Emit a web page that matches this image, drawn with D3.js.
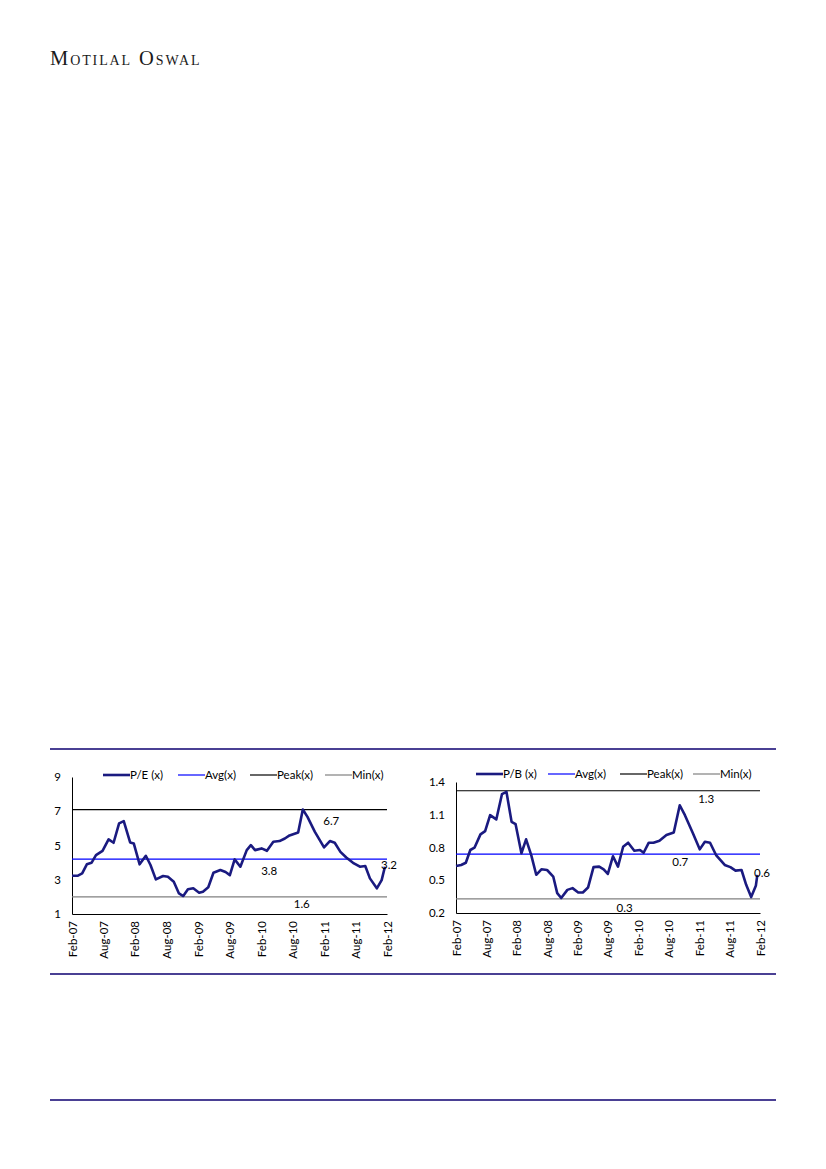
<!DOCTYPE html>
<html>
<head>
<meta charset="utf-8">
<script src="https://cdn.jsdelivr.net/npm/d3@7"></script>
<style>
  body { margin: 0; background: #fff; }
  svg text { font-family: Lato, "Open Sans", sans-serif; }
</style>
</head>
<body>
<div class="page"></div>
<script>
// P/E series (x)
var peDates = ["2007-02-01","2007-03-05","2007-04-01","2007-04-28","2007-05-25","2007-06-20","2007-07-28","2007-09-01",
  "2007-09-30","2007-11-01","2007-11-28","2008-01-04","2008-01-25","2008-02-28","2008-04-04","2008-05-01","2008-06-01",
  "2008-07-13","2008-08-10","2008-09-13","2008-10-13","2008-11-07","2008-12-04","2009-01-04","2009-02-07","2009-03-01",
  "2009-04-01","2009-05-01","2009-06-10","2009-07-10","2009-08-04","2009-09-01","2009-10-04","2009-11-10","2009-12-04",
  "2009-12-28","2010-02-04","2010-03-07","2010-04-13","2010-05-19","2010-06-19","2010-07-16","2010-09-04","2010-10-01",
  "2010-10-28","2010-12-10","2011-02-01","2011-03-07","2011-04-04","2011-05-07","2011-06-10","2011-07-19","2011-08-28",
  "2011-09-28","2011-10-25","2011-12-04","2012-01-01","2012-01-20"];
var peValues = [3.23,3.23,3.37,3.9,3.99,4.44,4.69,5.36,
  5.16,6.29,6.42,5.18,5.12,3.9,4.4,3.86,3.02,
  3.22,3.17,2.88,2.2,2.05,2.44,2.5,2.24,2.3,
  2.56,3.41,3.57,3.45,3.27,4.19,3.76,4.73,5.02,
  4.73,4.83,4.69,5.22,5.26,5.41,5.59,5.76,7.1,
  6.67,5.8,4.89,5.26,5.16,4.63,4.3,3.99,3.76,
  3.8,3.08,2.5,2.98,3.76];
var peRefs = [7.1, 4.2, 2.0];            // peak, avg, min lines
var peRefLabels = ["6.7", "3.8", "1.6", "3.2"];
var peTicks = [1, 3, 5, 7, 9];

// P/B series (x)
var pbDates = ["2007-02-01","2007-03-04","2007-04-01","2007-04-28","2007-05-23","2007-06-28","2007-07-26","2007-08-25",
  "2007-10-01","2007-11-04","2007-12-01","2008-01-01","2008-01-25","2008-02-29","2008-03-28","2008-04-28","2008-05-28",
  "2008-06-28","2008-08-01","2008-09-07","2008-10-01","2008-10-25","2008-12-01","2009-01-01","2009-02-04","2009-03-04",
  "2009-04-04","2009-05-07","2009-06-10","2009-07-07","2009-08-01","2009-09-01","2009-10-01","2009-11-01","2009-12-01",
  "2010-01-07","2010-02-10","2010-03-04","2010-04-04","2010-05-02","2010-06-07","2010-07-19","2010-09-01","2010-10-07",
  "2010-11-07","2010-12-25","2011-02-04","2011-03-07","2011-04-07","2011-05-13","2011-07-04","2011-08-07","2011-09-07",
  "2011-10-13","2011-11-10","2011-12-10","2012-01-07","2012-01-16"];
var pbValues = [0.631,0.64,0.66,0.777,0.798,0.92,0.95,1.096,
  1.057,1.288,1.31,1.035,1.014,0.747,0.875,0.73,0.55,
  0.60,0.594,0.534,0.382,0.337,0.412,0.428,0.388,0.388,
  0.433,0.62,0.625,0.60,0.558,0.72,0.625,0.807,0.844,
  0.77,0.777,0.752,0.844,0.844,0.862,0.914,0.938,1.187,
  1.096,0.93,0.783,0.853,0.844,0.731,0.64,0.62,0.588,
  0.594,0.458,0.346,0.449,0.549];
var pbRefs = [1.32, 0.74, 0.33];
var pbRefLabels = ["1.3", "0.7", "0.3", "0.6"];
var pbTicks = [0.2, 0.5, 0.8, 1.1, 1.4];

var xTickDates = ["2007-02-01","2007-08-01","2008-02-01","2008-08-01","2009-02-01","2009-08-01",
  "2010-02-01","2010-08-01","2011-02-01","2011-08-01","2012-02-01"];
var legendNames = ["Avg(x)", "Peak(x)", "Min(x)"];

var parse = d3.timeParse("%Y-%m-%d");
var navy = "#1a1a80";
var fontSize = '11.5px';

var svg = d3.select('.page')
    .append('svg')
    .attr('width', 826)
    .attr('height', 1169);

// header wordmark
svg.append('text')
    .attr('x', 50)
    .attr('y', 65)
    .attr('fill', '#1a1a1a')
    .style('font-family', '"Liberation Serif", "DejaVu Serif", serif')
    .style('font-variant', 'small-caps')
    .style('font-size', '20.5px')
    .style('letter-spacing', '1.9px')
    .text('Motilal Oswal');

// rule lines
[749, 974, 1100].forEach(function(y){
    svg.append('line')
        .attr('x1', 50).attr('x2', 776)
        .attr('y1', y).attr('y2', y)
        .attr('stroke', '#0e0070')
        .attr('stroke-width', 1.6);
});

function drawChart(opt){
    var x = d3.scaleTime()
        .domain([parse("2007-02-01"), parse("2012-02-01")])
        .range([opt.left, opt.right]);
    var y = d3.scaleLinear()
        .domain(d3.extent(opt.ticks))
        .range([opt.bottom, opt.top]);

    var g = svg.append('g');

    // y axis
    var ya = g.append('g')
        .attr('transform', 'translate(' + opt.left + ',0)')
        .call(d3.axisLeft(y).tickValues(opt.ticks).tickSize(0).tickPadding(opt.yPad)
            .tickFormat(function(d){ return opt.fmt(d); }));
    ya.select('.domain').attr('stroke', '#000');
    ya.selectAll('text').style('font-size', fontSize).style('font-family', 'Lato, sans-serif').attr('fill', '#000');

    // x axis
    var xa = g.append('g')
        .attr('transform', 'translate(0,' + opt.bottom + ')')
        .call(d3.axisBottom(x).tickValues(xTickDates.map(parse)).tickSize(0)
            .tickFormat(d3.timeFormat("%b-%y")));
    xa.select('.domain').attr('stroke', '#000');
    xa.selectAll('text')
        .style('font-size', fontSize)
        .style('font-family', 'Lato, sans-serif')
        .attr('fill', '#000')
        .attr('text-anchor', 'end')
        .attr('transform', 'rotate(-90)')
        .attr('x', -7)
        .attr('y', 0)
        .attr('dy', '0.35em');

    // reference lines: peak, avg, min
    var refColors = ['#000', '#0000ff', '#808080'];
    opt.refs.forEach(function(v, i){
        g.append('line')
            .attr('x1', opt.left).attr('x2', opt.right)
            .attr('y1', y(v)).attr('y2', y(v))
            .attr('stroke', refColors[i])
            .attr('stroke-width', 1.2);
    });

    // series line
    var pts = opt.dates.map(function(d, i){ return {date: parse(d), value: opt.values[i]}; });
    g.append('path')
        .datum(pts)
        .attr('fill', 'none')
        .attr('stroke', navy)
        .attr('stroke-width', 2.6)
        .attr('stroke-linejoin', 'round')
        .attr('d', d3.line()
            .x(function(d){ return x(d.date); })
            .y(function(d){ return y(d.value); }));

    // value labels
    var lblPos = [
        [x(parse(opt.labelDates[0])), y(opt.refs[0]) + opt.labelDy[0]],
        [x(parse(opt.labelDates[1])), y(opt.refs[1]) + opt.labelDy[1]],
        [x(parse(opt.labelDates[2])), y(opt.refs[2]) + opt.labelDy[2]],
        [opt.right + 2, y(opt.values[opt.values.length - 1]) - 2]
    ];
    opt.labels.forEach(function(t, i){
        g.append('text')
            .attr('x', lblPos[i][0])
            .attr('y', lblPos[i][1])
            .attr('dy', '0.35em')
            .attr('text-anchor', 'middle')
            .style('font-size', fontSize)
            .attr('fill', '#000')
            .text(t);
    });

    // legend
    var names = [opt.name].concat(legendNames);
    var legColors = [navy, '#0000ff', '#000', '#808080'];
    var legWidths = [2.6, 1.2, 1.2, 1.2];
    names.forEach(function(n, i){
        var lx = opt.legendX[i];
        g.append('line')
            .attr('x1', lx).attr('x2', lx + 27)
            .attr('y1', opt.legendY).attr('y2', opt.legendY)
            .attr('stroke', legColors[i])
            .attr('stroke-width', legWidths[i]);
        g.append('text')
            .attr('x', lx + 27)
            .attr('y', opt.legendY)
            .attr('dy', '0.35em')
            .style('font-size', fontSize)
            .attr('fill', '#000')
            .text(n);
    });
}

drawChart({
    name: 'P/E (x)', dates: peDates, values: peValues, refs: peRefs, labels: peRefLabels,
    ticks: peTicks, fmt: d3.format('d'), yPad: 11,
    left: 72, right: 387, top: 777, bottom: 914,
    labelDates: ["2011-03-15", "2010-03-20", "2010-09-25"], labelDy: [11, 12, 7],
    legendX: [103, 178, 250, 325], legendY: 775
});

drawChart({
    name: 'P/B (x)', dates: pbDates, values: pbValues, refs: pbRefs, labels: pbRefLabels,
    ticks: pbTicks, fmt: d3.format('.1f'), yPad: 11,
    left: 456, right: 760, top: 782, bottom: 913,
    labelDates: ["2011-03-15", "2010-10-10", "2009-11-10"], labelDy: [8, 8, 9],
    legendX: [476, 548, 620, 693], legendY: 774
});
</script>
</body>
</html>
